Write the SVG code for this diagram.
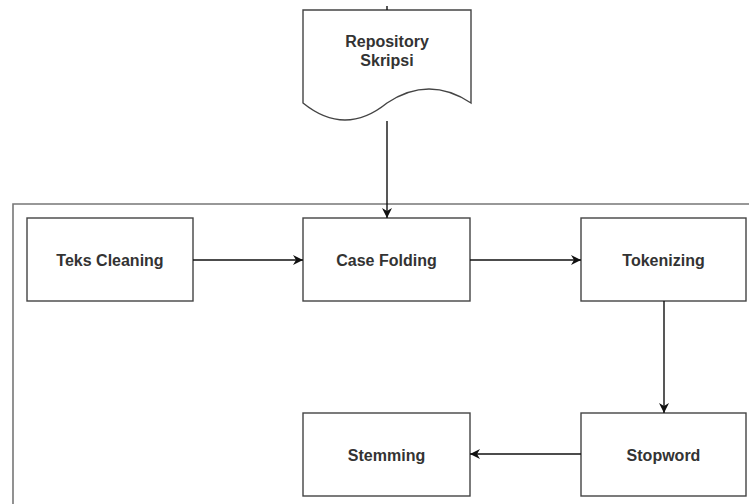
<svg xmlns="http://www.w3.org/2000/svg" width="749" height="504" viewBox="0 0 749 504">
<defs>
<style>
.box{fill:#fff;stroke:#444;stroke-width:1.4}
.lbl{font-family:"Liberation Sans",Arial,sans-serif;font-size:16px;font-weight:bold;fill:#333;text-anchor:middle}
.edge{fill:none;stroke:#111;stroke-width:1.4}
</style>
<marker id="ah" viewBox="0 0 10 10" refX="10" refY="5" markerWidth="10" markerHeight="10" markerUnits="userSpaceOnUse" orient="auto">
<path d="M0,0 L10,5 L0,10 L3,5 Z" fill="#111"/>
</marker>
</defs>
<rect width="749" height="504" fill="#fff"/>
<g id="container">
<path d="M13,504 L13,204 L749,204" fill="none" stroke="#777" stroke-width="1.6"/>
</g>
<g id="repository">
<path class="box" d="M303,10 L471,10 L471,103 Q429,75 387,103 Q345,137 303,103 Z"/>
<text class="lbl" x="387" y="47">Repository</text>
<text class="lbl" x="387" y="66">Skripsi</text>
</g>
<g id="teks-cleaning">
<rect class="box" x="27" y="218" width="166" height="83"/>
<text class="lbl" x="110" y="266">Teks Cleaning</text>
</g>
<g id="case-folding">
<rect class="box" x="303" y="218" width="167" height="83"/>
<text class="lbl" x="386.5" y="266">Case Folding</text>
</g>
<g id="tokenizing">
<rect class="box" x="581" y="218" width="165" height="83"/>
<text class="lbl" x="663.5" y="266">Tokenizing</text>
</g>
<g id="stopword">
<rect class="box" x="581" y="413" width="165" height="83"/>
<text class="lbl" x="663.5" y="461">Stopword</text>
</g>
<g id="stemming">
<rect class="box" x="303" y="413" width="167" height="83"/>
<text class="lbl" x="386.5" y="461">Stemming</text>
</g>
<g id="connectors">
<line class="edge" x1="387" y1="6" x2="387" y2="10"/>
<line class="edge" x1="387" y1="121" x2="387" y2="218" marker-end="url(#ah)"/>
<line class="edge" x1="193" y1="260" x2="303" y2="260" marker-end="url(#ah)"/>
<line class="edge" x1="470" y1="260" x2="581" y2="260" marker-end="url(#ah)"/>
<line class="edge" x1="664" y1="301" x2="664" y2="413" marker-end="url(#ah)"/>
<line class="edge" x1="581" y1="454" x2="470" y2="454" marker-end="url(#ah)"/>
</g>
</svg>
